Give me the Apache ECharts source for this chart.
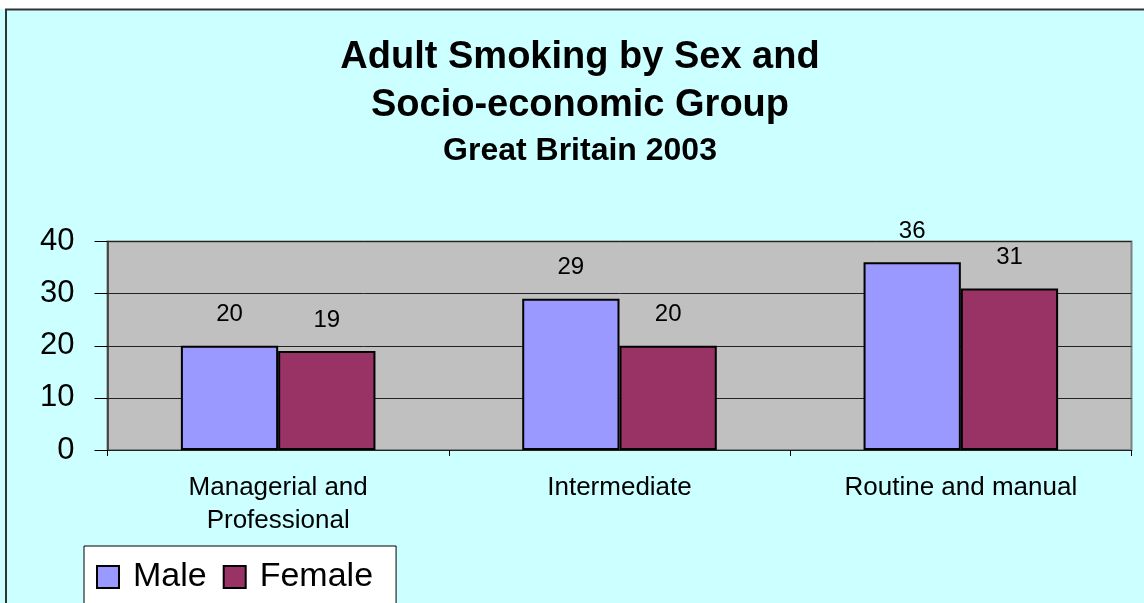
<!DOCTYPE html>
<html>
<head>
<meta charset="utf-8">
<script src="https://cdn.jsdelivr.net/npm/echarts@6/dist/echarts.min.js"></script>
<style>
html,body{margin:0;padding:0;background:#fff;}
#chart{width:1144px;height:603px;}
</style>
</head>
<body>
<div id="chart"></div>
<script>
const categories = ["Managerial and\nProfessional", "Intermediate", "Routine and manual"];
const maleValues = [20, 29, 36];
const femaleValues = [19, 20, 31];
const seriesNames = ["Male", "Female"];
const yTicks = [0, 10, 20, 30, 40];
const titleText = "Adult Smoking by Sex and\nSocio-economic Group";
const subtitleText = "Great Britain 2003";

const FONT = "'Liberation Sans', Arial, sans-serif";
const chart = echarts.init(document.getElementById('chart'), null, {renderer: 'canvas'});

const labelStyle = {
  show: true, position: 'top', distance: 19,
  fontSize: 24, color: '#000', fontFamily: FONT
};

chart.setOption({
  backgroundColor: '#CCFFFF',
  animation: false,
  textStyle: {fontFamily: FONT},
  graphic: [
    {type: 'rect', shape: {x: 0, y: 0, width: 1144, height: 9}, style: {fill: '#fff'}, silent: true, z: 100},
    {type: 'polyline', shape: {points: [[6, 603], [6, 9.5], [1144, 9.5]]}, style: {stroke: '#333', lineWidth: 2, fill: null}, silent: true, z: 100}
  ],
  title: {
    text: titleText,
    subtext: subtitleText,
    left: 580,
    textAlign: 'center',
    top: 34,
    padding: 0,
    itemGap: 3,
    textStyle: {fontSize: 38, fontWeight: 'bold', color: '#000', lineHeight: 48, fontFamily: FONT},
    subtextStyle: {fontSize: 32, fontWeight: 'bold', color: '#000', lineHeight: 36, fontFamily: FONT}
  },
  legend: {
    data: seriesNames,
    orient: 'horizontal',
    left: 84,
    top: 546,
    padding: [14, 23, 40, 12],
    itemGap: 16,
    itemWidth: 22,
    itemHeight: 22,
    icon: 'rect',
    backgroundColor: '#fff',
    borderColor: '#000',
    borderWidth: 1,
    itemStyle: {borderColor: '#000', borderWidth: 2},
    textStyle: {fontSize: 34, color: '#000', fontFamily: FONT, padding: [0, 0, 0, 9]}
  },
  grid: {
    left: 107.5, right: 12.5, top: 241.5, bottom: 153,
    show: true, backgroundColor: '#C0C0C0', borderColor: '#808080', borderWidth: 2,
    containLabel: false
  },
  xAxis: {
    type: 'category',
    data: categories,
    axisLine: {show: true, lineStyle: {color: '#222', width: 1}},
    axisTick: {show: true, alignWithLabel: false, length: 6, lineStyle: {color: '#000'}},
    axisLabel: {fontSize: 26, color: '#000', lineHeight: 33, margin: 21, fontFamily: FONT, interval: 0},
    splitLine: {show: false}
  },
  yAxis: {
    type: 'value',
    min: yTicks[0], max: yTicks[yTicks.length - 1], interval: 10,
    axisLine: {show: true, lineStyle: {color: '#333', width: 1.5}},
    axisTick: {show: true, length: 13, lineStyle: {color: '#000'}},
    axisLabel: {fontSize: 31, color: '#000', margin: 33, fontFamily: FONT},
    splitLine: {show: true, lineStyle: {color: '#222', width: 1}}
  },
  series: [
    {
      name: seriesNames[0], type: 'bar', data: maleValues,
      barGap: '0%', barCategoryGap: '43%',
      itemStyle: {color: '#9999FF', borderColor: '#000', borderWidth: 2},
      label: labelStyle
    },
    {
      name: seriesNames[1], type: 'bar', data: femaleValues,
      barGap: '0%', barCategoryGap: '43%',
      itemStyle: {color: '#993366', borderColor: '#000', borderWidth: 2},
      label: labelStyle
    }
  ]
});
</script>
</body>
</html>
